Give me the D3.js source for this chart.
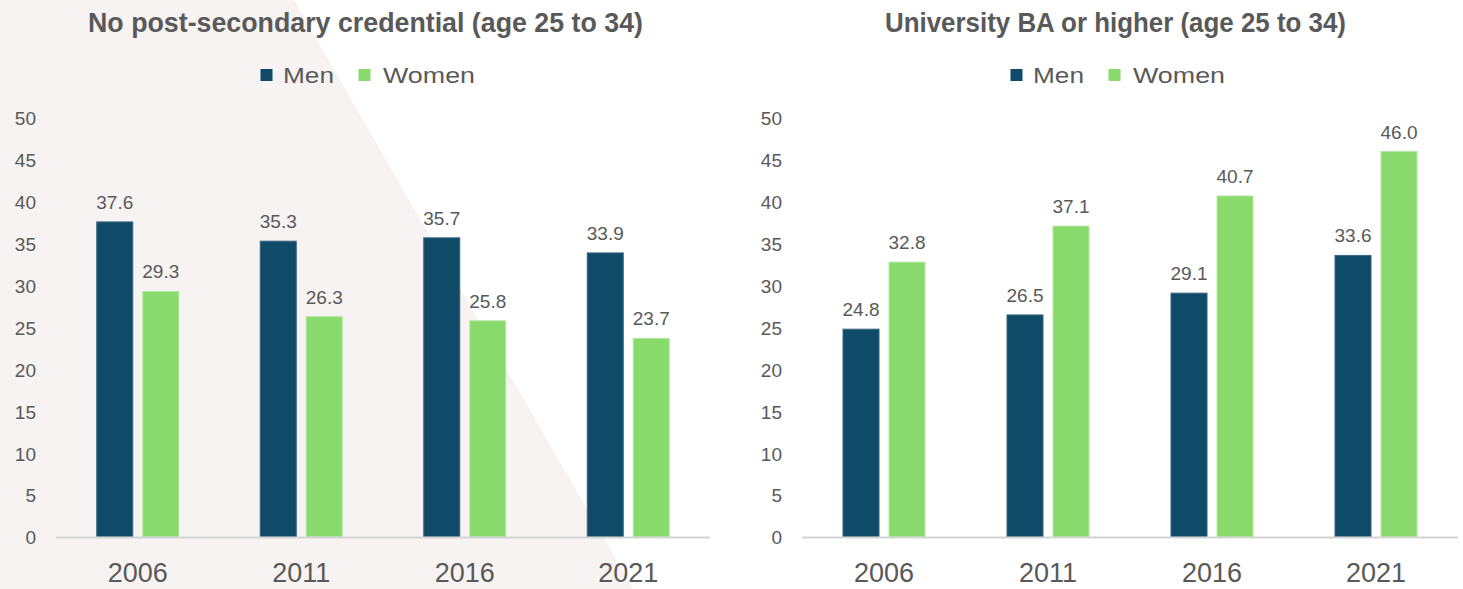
<!DOCTYPE html>
<html>
<head>
<meta charset="utf-8">
<script src="https://cdn.jsdelivr.net/npm/d3@7"></script>
<style>
  html, body { margin: 0; padding: 0; background: #ffffff; }
  svg { display: block; }
  text { font-family: "Liberation Sans", Arial, sans-serif; }
</style>
</head>
<body>
<svg id="chart" width="1463" height="589"></svg>
<script>
// ---- data ----
const years = ["2006", "2011", "2016", "2021"];
const seriesNames = ["Men", "Women"];
const noPostSecMen = [37.6, 35.3, 35.7, 33.9];
const noPostSecWomen = [29.3, 26.3, 25.8, 23.7];
const uniBAMen = [24.8, 26.5, 29.1, 33.6];
const uniBAWomen = [32.8, 37.1, 40.7, 46.0];
const yTicks = [0, 5, 10, 15, 20, 25, 30, 35, 40, 45, 50];
const titles = ["No post-secondary credential (age 25 to 34)", "University BA or higher (age 25 to 34)"];

// ---- styling / layout ----
const colors = { Men: "#0f4a69", Women: "#89da6c" };
const strokes = { Men: "#3a6680", Women: "#b3e8a1" };
const textColor = "#595959";

const svg = d3.select("#chart");

// background diagonal shape
svg.append("polygon")
  .attr("points", [[0, 0], [294, 0], [633, 589], [0, 589]].map(p => p.join(",")).join(" "))
  .attr("fill", "#f7f3f2");

const panels = [
  { title: titles[0], men: noPostSecMen, women: noPostSecWomen, x0: 56, x1: 710, titleCx: 365.5, titleW: 555 },
  { title: titles[1], men: uniBAMen, women: uniBAWomen, x0: 802, x1: 1458, titleCx: 1115.5, titleW: 461 }
];

const y = d3.scaleLinear().domain([0, 50]).range([537, 118]);
const fmt = d3.format(".1f");

panels.forEach(p => {
  const g = svg.append("g");

  // title
  g.append("text")
    .attr("x", p.titleCx - p.titleW / 2)
    .attr("y", 32)
    .attr("font-size", 27)
    .attr("font-weight", "bold")
    .attr("fill", textColor)
    .attr("textLength", p.titleW)
    .attr("lengthAdjust", "spacingAndGlyphs")
    .text(p.title);

  // legend
  const lg = g.append("g").attr("transform", `translate(${p.titleCx},0)`);
  const legendItems = [
    { name: seriesNames[0], sq: -105, tx: -82.5, w: 51 },
    { name: seriesNames[1], sq: -7, tx: 17.5, w: 92 }
  ];
  legendItems.forEach(li => {
    lg.append("rect").attr("x", li.sq).attr("y", 69).attr("width", 12).attr("height", 12)
      .attr("fill", colors[li.name]);
    lg.append("text").attr("x", li.tx).attr("y", 83)
      .attr("font-size", 22).attr("fill", textColor)
      .attr("textLength", li.w).attr("lengthAdjust", "spacingAndGlyphs")
      .text(li.name);
  });

  const x0 = d3.scaleBand().domain(years).range([p.x0, p.x1]).paddingInner(0).paddingOuter(0);
  const x1 = d3.scaleBand().domain(seriesNames).range([-41, 41]).paddingInner(0.217).paddingOuter(0);

  // y axis (labels only)
  const yAxis = d3.axisLeft(y).tickValues(yTicks).tickSize(0).tickPadding(0).tickFormat(d3.format("d"));
  const ya = g.append("g").attr("transform", `translate(${p.x0 - 20},0)`).call(yAxis);
  ya.select(".domain").remove();
  ya.selectAll("text").attr("font-size", 19).attr("fill", textColor)
    .attr("font-family", "'Liberation Sans', Arial, sans-serif").attr("dy", "0.36em");

  // bars
  const rows = years.map((yr, i) => ({ year: yr, values: [
    { name: "Men", v: p.men[i] }, { name: "Women", v: p.women[i] }
  ]}));

  const grp = g.selectAll(".grp").data(rows).enter().append("g")
    .attr("transform", d => `translate(${x0(d.year) + x0.bandwidth() / 2},0)`);

  grp.selectAll("rect").data(d => d.values).enter().append("rect")
    .attr("x", d => x1(d.name))
    .attr("width", x1.bandwidth())
    .attr("y", d => y(d.v))
    .attr("height", d => y(0) - y(d.v))
    .attr("fill", d => colors[d.name])
    .attr("stroke", d => strokes[d.name])
    .attr("stroke-width", 1);

  grp.selectAll("text.val").data(d => d.values).enter().append("text")
    .attr("class", "val")
    .attr("x", d => x1(d.name) + x1.bandwidth() / 2)
    .attr("y", d => y(d.v) - 13)
    .attr("text-anchor", "middle")
    .attr("font-size", 19)
    .attr("fill", textColor)
    .text(d => fmt(d.v));

  // x axis line
  g.append("line")
    .attr("x1", p.x0).attr("x2", p.x1)
    .attr("y1", y(0) + 0.5).attr("y2", y(0) + 0.5)
    .attr("stroke", "#d4d4d4").attr("stroke-width", 2);

  // x axis labels
  const xAxis = d3.axisBottom(x0).tickSize(0).tickPadding(0);
  const xa = g.append("g").attr("transform", `translate(0,${y(0)})`).call(xAxis);
  xa.select(".domain").remove();
  xa.selectAll("text").attr("font-size", 27).attr("fill", textColor)
    .attr("font-family", "'Liberation Sans', Arial, sans-serif")
    .attr("dy", null).attr("y", 45);
});
</script>
</body>
</html>
